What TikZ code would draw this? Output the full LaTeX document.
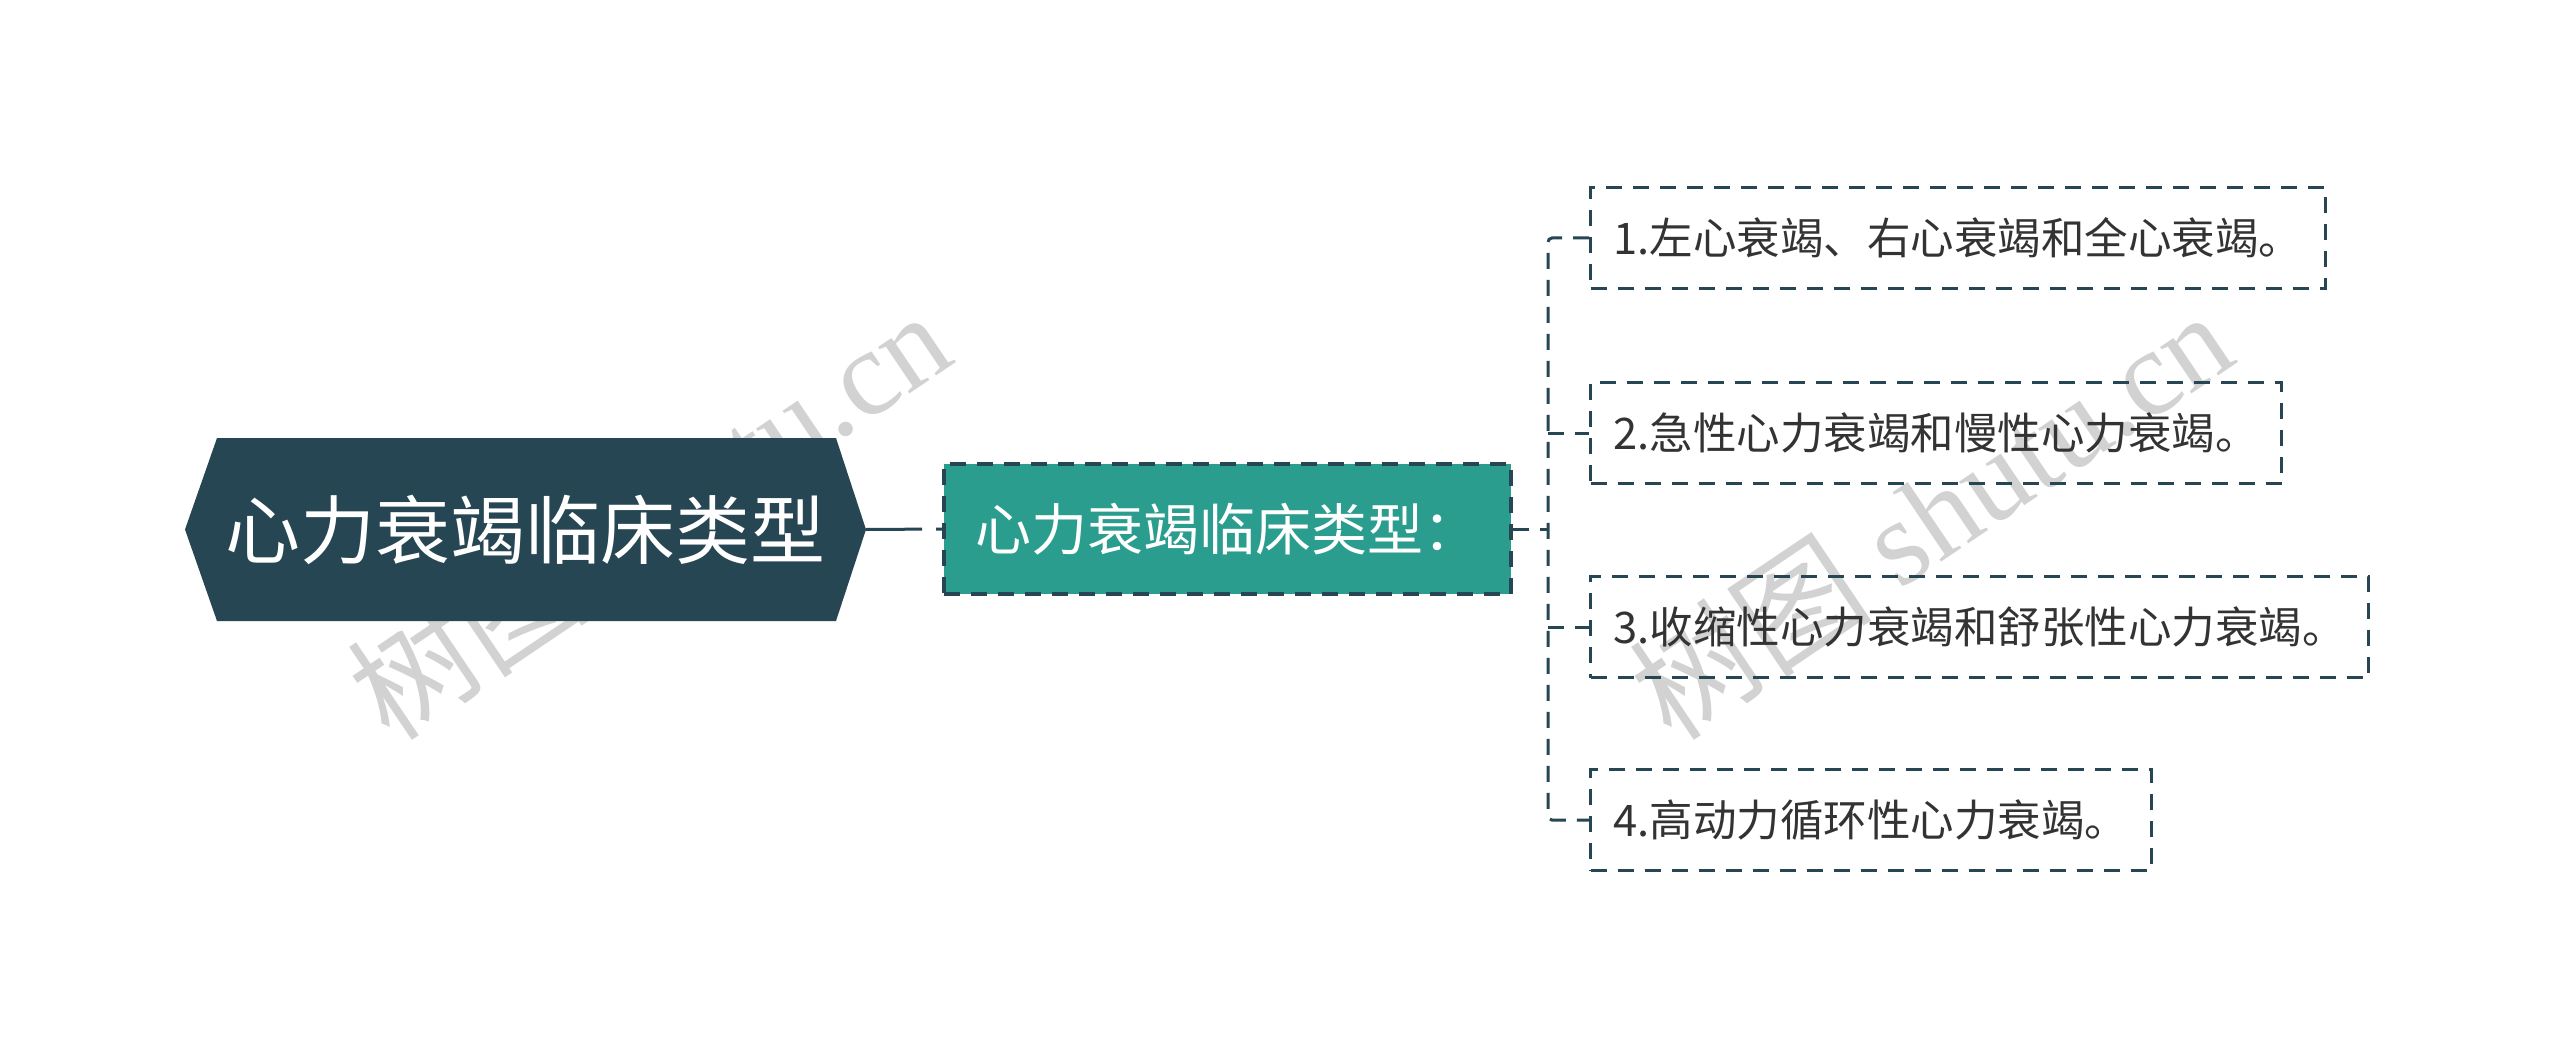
\documentclass[tikz,border=0pt]{standalone}
\usepackage{fontspec}
\setmainfont{Noto Sans CJK SC}
\newfontfamily\wmserif{Liberation Serif}
\definecolor{dk}{HTML}{264653}
\definecolor{tl}{HTML}{2A9D8F}
\definecolor{txt}{HTML}{333333}
\definecolor{wmc}{HTML}{D2D2D2}
\begin{document}
\begin{tikzpicture}[x=1pt,y=-1pt,
  wm/.style={text=wmc, font=\fontsize{122}{130}\selectfont, inner sep=0, rotate=34},
  rootnode/.style={inner sep=0, minimum width=681, minimum height=183, text=white, font=\fontsize{75}{80}\selectfont},
  subnode/.style={draw=dk, fill=tl, line width=3.5, dash pattern=on 16 off 11, inner sep=0, minimum width=567, minimum height=130, text=white, font=\fontsize{56}{60}\selectfont},
  leaf/.style={draw=dk, line width=3, dash pattern=on 16 off 11, inner xsep=23, inner ysep=0, minimum height=101, anchor=west, text=txt, font=\fontsize{43.5}{48}\selectfont},
  conn/.style={draw=dk, line width=3, dash pattern=on 16 off 11},
]
\useasboundingbox[fill=white] (0,0) rectangle (2560,1059);
% watermarks
\node[wm] (wm1) at (648,514) {树图{\wmserif\ shutu.cn}};
\node[wm] (wm2) at (1930,514) {树图{\wmserif\ shutu.cn}};
% root hexagon
\fill[dk] (185,529.5) -- (217,438) -- (836,438) -- (866,529.5) -- (836,621) -- (217,621) -- cycle;
\node[rootnode] (root) at (525.5,529.5) {心力衰竭临床类型};
% sub node
\node[subnode] (sub) at (1227.5,529) {心力衰竭临床类型：};
% leaves
\node[leaf] (b1) at (1589,238) {1.左心衰竭、右心衰竭和全心衰竭。};
\node[leaf] (b2) at (1589,433) {2.急性心力衰竭和慢性心力衰竭。};
\node[leaf] (b3) at (1589,627) {3.收缩性心力衰竭和舒张性心力衰竭。};
\node[leaf] (b4) at (1589,820) {4.高动力循环性心力衰竭。};
\coordinate (j) at (1548,529);
% connectors
\draw[conn, dash pattern=on 56 off 14 on 30] (root.east) -- (sub.west);
\draw[conn] (sub.east) -- (j);
\draw[conn, rounded corners=4] (b1.west) -- (j |- b1.west) -- (j |- b4.west) -- (b4.west);
\draw[conn] (j |- b2.west) -- (b2.west);
\draw[conn] (j |- b3.west) -- (b3.west);
\end{tikzpicture}
\end{document}
